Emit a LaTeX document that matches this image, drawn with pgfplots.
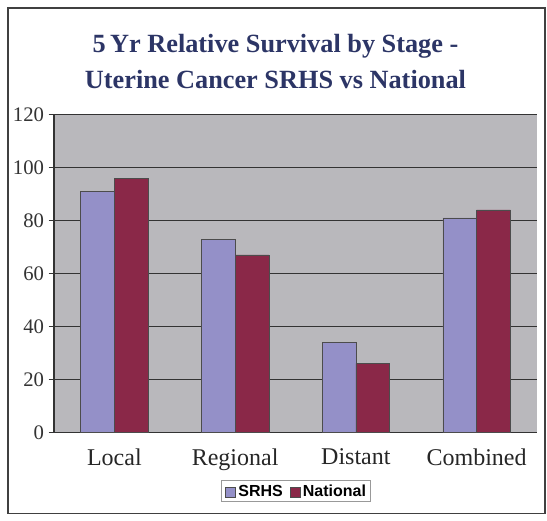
\documentclass[border=0pt]{standalone}
\usepackage{pgfplots}
\pgfplotsset{compat=1.18}
\usepackage{fontspec}
\setmainfont{Liberation Serif}
\newfontfamily\legfont{Liberation Sans}
\definecolor{srhs}{HTML}{9490C8}
\definecolor{natl}{HTML}{8A2848}
\definecolor{plotbg}{HTML}{B9B8BC}
\definecolor{titlec}{HTML}{2C3566}
\begin{document}
\begin{tikzpicture}
\begin{axis}[
  name=ax,
  scale only axis,
  width=362pt, height=238pt,
  ybar, bar width=0.28,
  xmin=-0.5, xmax=3.5,
  ymin=0, ymax=120,
  ytick={0,20,...,120},
  xtick={0,1,2,3},
  xticklabels={Local,Regional,Distant,Combined},
  x tick label style={font=\fontsize{18}{20}\selectfont, text=black!85, yshift=-5pt},
  y tick label style={font=\fontsize{15.5}{17}\selectfont, text=black!80},
  /pgf/number format/assume math mode=true,
  major x tick style={draw=none},
  major y tick style={black!80, line width=0.6pt},
  tick align=outside, major tick length=4pt,
  ymajorgrids,
  grid style={black!80, line width=0.7pt},
  axis background/.style={fill=plotbg},
  axis x line*=bottom,
  axis y line*=left,
  axis line style={black!80, line width=0.8pt},
  clip=false,
]
\addplot[fill=srhs, draw=black!70, bar shift=-0.14] coordinates {(0,91) (1,73) (2,34) (3,81)};
\addplot[fill=natl, draw=black!70, bar shift=0.14] coordinates {(0,96) (1,67) (2,26) (3,84)};
\end{axis}
% outer frame
\draw[black!75, line width=1pt] ([xshift=-34.5pt, yshift=-61pt]ax.south west) rectangle ([xshift=6pt, yshift=80pt]ax.north east);
% white margin
\path ([xshift=-40.5pt, yshift=-66.25pt]ax.south west) rectangle ([xshift=7.5pt, yshift=86pt]ax.north east);
% title
\node[align=center, font=\bfseries\fontsize{19.7}{26.5}\selectfont, text=titlec] at ([xshift=-15pt, yshift=40pt]ax.north) {5\,Yr Relative Survival by Stage -\\Uterine Cancer SRHS vs National};
% legend
\node[draw=black!40, line width=0.5pt, fill=white, inner sep=3pt, font=\legfont\bfseries\fontsize{12}{14}\selectfont] at ([yshift=-44pt]ax.south) {%
\tikz[baseline=-0.5ex]\draw[fill=srhs, draw=black!70] (0,-3.8pt) rectangle (7.6pt,3.8pt);\,SRHS\hspace{5pt}%
\tikz[baseline=-0.5ex]\draw[fill=natl, draw=black!70] (0,-3.8pt) rectangle (7.6pt,3.8pt);\,National};
\end{tikzpicture}
\end{document}
